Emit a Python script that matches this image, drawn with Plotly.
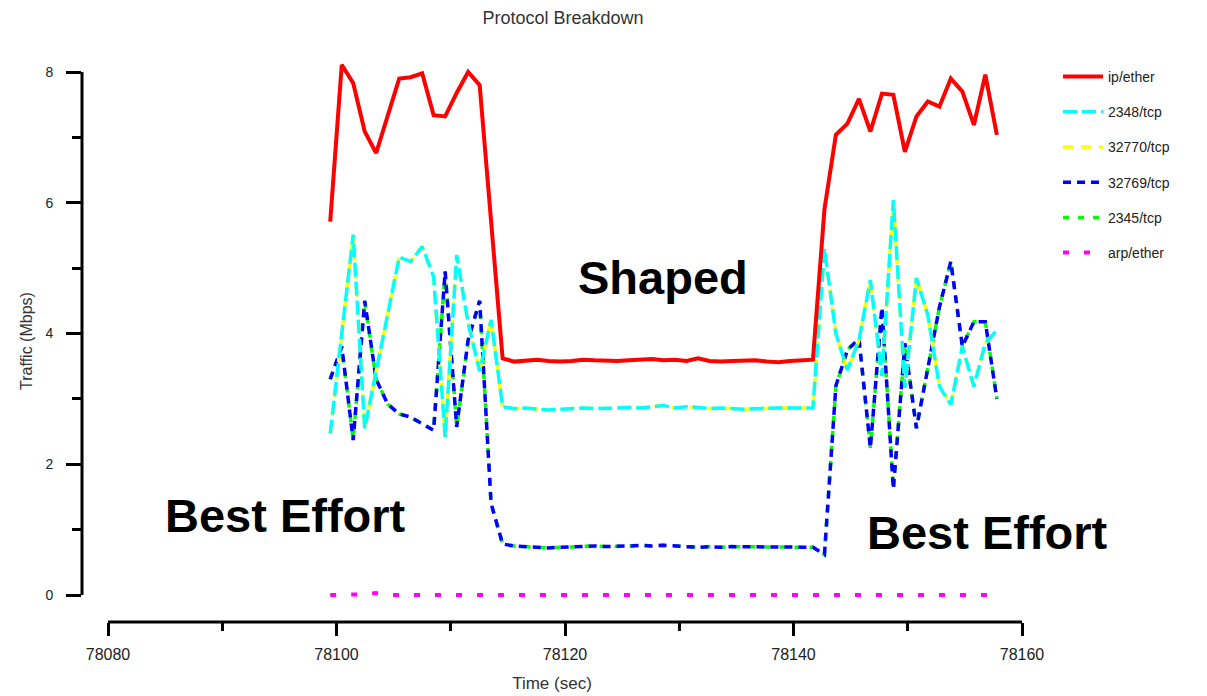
import plotly.graph_objects as go

# ---------------- data ----------------
time_sec = [
    78099.45, 78100.46, 78101.46, 78102.47, 78103.47, 78104.48, 78105.49, 78106.49,
    78107.50, 78108.50, 78109.51, 78110.52, 78111.52, 78112.53, 78113.53, 78114.54,
    78115.55, 78116.55, 78117.56, 78118.56, 78119.57, 78120.58, 78121.58, 78122.59,
    78123.59, 78124.60, 78125.61, 78126.61, 78127.62, 78128.62, 78129.63, 78130.64,
    78131.64, 78132.65, 78133.65, 78134.66, 78135.67, 78136.67, 78137.68, 78138.68,
    78139.69, 78140.70, 78141.70, 78142.71, 78143.71, 78144.72, 78145.73, 78146.73,
    78147.74, 78148.74, 78149.75, 78150.76, 78151.76, 78152.77, 78153.77, 78154.78,
    78155.79, 78156.79, 78157.80,
]

ip_ether = [
    5.71, 8.11, 7.83, 7.09, 6.76, 7.35, 7.90, 7.92, 7.98, 7.34, 7.32, 7.68, 8.00, 7.80, 5.75,
    3.62, 3.57, 3.58, 3.60, 3.58, 3.57, 3.58, 3.60, 3.59, 3.58, 3.58, 3.59, 3.60, 3.61,
    3.59, 3.60, 3.58, 3.62, 3.58, 3.57, 3.58, 3.59, 3.59, 3.57, 3.56, 3.58, 3.59, 3.60,
    5.90, 7.04, 7.21, 7.59, 7.09, 7.67, 7.65, 6.78, 7.32, 7.55, 7.47, 7.90, 7.70, 7.19,
    7.96, 7.04,
]

tcp_2348 = [
    2.47, 3.95, 5.51, 2.55, 3.40, 4.30, 5.17, 5.10, 5.33, 4.87, 2.42, 5.20, 4.16, 3.42,
    4.21, 2.88,
    2.85, 2.86, 2.84, 2.83, 2.84, 2.85, 2.86, 2.85, 2.85, 2.86, 2.87, 2.86, 2.88, 2.90,
    2.86, 2.88, 2.87, 2.85, 2.86, 2.85, 2.84, 2.85, 2.86, 2.86, 2.86, 2.86, 2.86,
    5.30, 4.00, 3.44, 3.90, 4.82, 3.35, 6.04, 3.17, 4.85, 4.28, 3.19, 2.91, 3.80, 3.19,
    3.85, 4.05,
]

tcp_32770 = [
    2.47, 3.95, 5.51, 2.55, 3.40, 4.30, 5.17, 5.10, 5.33, 4.87, 2.42, 5.20, 4.16, 3.42,
    4.21, 2.88,
    2.85, 2.86, 2.84, 2.83, 2.84, 2.85, 2.86, 2.85, 2.85, 2.86, 2.87, 2.86, 2.88, 2.90,
    2.86, 2.88, 2.87, 2.85, 2.86, 2.85, 2.84, 2.85, 2.86, 2.86, 2.86, 2.86, 2.86,
    5.30, 4.00, 3.44, 3.90, 4.82, 3.35, 6.04, 3.17, 4.85, 4.28, 3.19, 2.91, 3.80, 3.19,
    3.85, 4.05,
]

tcp_32769 = [
    3.30, 3.80, 2.37, 4.50, 3.30, 2.92, 2.77, 2.72, 2.62, 2.52, 4.95, 2.57, 3.90, 4.50,
    1.40, 0.78,
    0.75, 0.74, 0.73, 0.72, 0.73, 0.74, 0.74, 0.75, 0.74, 0.74, 0.75, 0.76, 0.75, 0.76,
    0.75, 0.74, 0.73, 0.74, 0.73, 0.74, 0.74, 0.74, 0.73, 0.73, 0.74, 0.74,
    0.73, 0.62, 3.20, 3.75, 3.92, 2.25, 4.40, 1.62, 3.85, 2.55, 3.50, 4.40, 5.10, 3.80,
    4.18, 4.18, 3.00,
]

tcp_2345 = [
    3.30, 3.80, 2.37, 4.50, 3.30, 2.92, 2.77, 2.72, 2.62, 2.52, 4.95, 2.57, 3.90, 4.50,
    1.40, 0.78,
    0.75, 0.74, 0.73, 0.72, 0.73, 0.74, 0.74, 0.75, 0.74, 0.74, 0.75, 0.76, 0.75, 0.76,
    0.75, 0.74, 0.73, 0.74, 0.73, 0.74, 0.74, 0.74, 0.73, 0.73, 0.74, 0.74,
    0.73, 0.62, 3.20, 3.75, 3.92, 2.25, 4.40, 1.62, 3.85, 2.55, 3.50, 4.40, 5.10, 3.80,
    4.18, 4.18, 3.00,
]

arp_ether = [
    0.0, 0.0, 0.0, 0.01, 0.03, 0.0, 0.0, 0.0, 0.0, 0.0, 0.0, 0.0, 0.0, 0.0, 0.0,
    0.0, 0.0, 0.0, 0.0, 0.0, 0.0, 0.0, 0.0, 0.0, 0.0, 0.0, 0.0, 0.0, 0.0, 0.0,
    0.0, 0.0, 0.0, 0.0, 0.0, 0.0, 0.0, 0.0, 0.0, 0.0, 0.0, 0.0, 0.0, 0.0, 0.0,
    0.0, 0.0, 0.0, 0.0, 0.0, 0.0, 0.0, 0.0, 0.0, 0.0, 0.0, 0.0, 0.0, 0.0,
]

x_ticks = [78080, 78100, 78120, 78140, 78160]
y_ticks = [0, 2, 4, 6, 8]

# ---------------- figure ----------------
FONT = "Liberation Sans, Arial, Helvetica, sans-serif"

series = [
    # (name, values, color, dash, width, legendrank)
    ("arp/ether", arp_ether, "#ff00ff", "6px,15px", 4, 6),
    ("2345/tcp", tcp_2345, "#00ff00", "6px,9px", 3.5, 5),
    ("32769/tcp", tcp_32769, "#0000ff", "8px,6px", 3.5, 4),
    ("32770/tcp", tcp_32770, "#ffff00", "10px,8px", 3.5, 3),
    ("2348/tcp", tcp_2348, "#00ffff", "14px,5px", 3.5, 2),
    ("ip/ether", ip_ether, "#ff0000", "solid", 4, 1),
]

fig = go.Figure()
for name, vals, color, dash, width, rank in series:
    fig.add_trace(go.Scatter(
        x=time_sec, y=vals, mode="lines", name=name,
        line=dict(color=color, dash=dash, width=width),
        legendgroup=name, legendrank=rank,
    ))

W, H = 1199, 688  # page body has an 8px margin
fig.update_layout(
    width=W, height=H,
    margin=dict(l=74, r=185, t=52, b=74, autoexpand=False),
    paper_bgcolor="white", plot_bgcolor="white",
    font=dict(family=FONT, color="#222222"),
    title=dict(text="Protocol Breakdown", x=555 / W, xanchor="center",
               y=1 - 10 / H, yanchor="middle",
               font=dict(size=18, color="#333333", family=FONT)),
    showlegend=True,
    legend=dict(x=(1050 - 74) / 940, xanchor="left", y=(614 - 53) / 562, yanchor="top",
                font=dict(size=14, color="#222222", family=FONT),
                tracegroupgap=14, itemwidth=40, bgcolor="rgba(0,0,0,0)"),
)

fig.update_xaxes(
    range=[78080 - 26 / 11.425, 78160], automargin=False,
    tickmode="array", tickvals=x_ticks, ticktext=[str(v) for v in x_ticks],
    ticks="outside", ticklen=13, tickwidth=3, tickcolor="black",
    minor=dict(dtick=10, tick0=78080, ticks="outside", ticklen=8, tickwidth=3, tickcolor="black"),
    showline=False, showgrid=False, zeroline=False,
    tickfont=dict(size=16, color="#222222"),
    ticklabelstandoff=5,
    title=dict(text="Time (sec)", font=dict(size=17, color="#333333"), standoff=14),
)

fig.update_yaxes(
    range=[-27 / 65.375, 8 + 12 / 65.375], automargin=False,
    tickmode="array", tickvals=y_ticks, ticktext=[str(v) for v in y_ticks],
    ticks="outside", ticklen=15, tickwidth=3, tickcolor="black",
    minor=dict(dtick=1, tick0=0, ticks="outside", ticklen=9, tickwidth=3, tickcolor="black"),
    showline=False, showgrid=False, zeroline=False,
    tickfont=dict(size=14, color="#222222"),
    ticklabelstandoff=10,
    title=dict(text="Traffic (Mbps)", font=dict(size=16, color="#333333"), standoff=8),
)

# axis lines (x-axis spans only the tick range, y-axis only 0..8)
fig.add_shape(type="line", xref="x", yref="paper", x0=x_ticks[0], x1=x_ticks[-1],
              y0=0, y1=0, line=dict(color="black", width=3))
fig.add_shape(type="line", xref="paper", yref="y", x0=0, x1=0,
              y0=y_ticks[0], y1=y_ticks[-1], line=dict(color="black", width=3))

ann_font = dict(family=FONT, size=47, color="black", weight="bold")
fig.add_annotation(x=78128.6, y=4.86, xref="x", yref="y", text="Shaped",
                   showarrow=False, font=ann_font, xanchor="center", yanchor="middle")
fig.add_annotation(x=78095.5, y=1.21, xref="x", yref="y", text="Best Effort",
                   showarrow=False, font=ann_font, xanchor="center", yanchor="middle")
fig.add_annotation(x=78157.0, y=0.96, xref="x", yref="y", text="Best Effort",
                   showarrow=False, font=ann_font, xanchor="center", yanchor="middle")

fig.write_html("out.html")
